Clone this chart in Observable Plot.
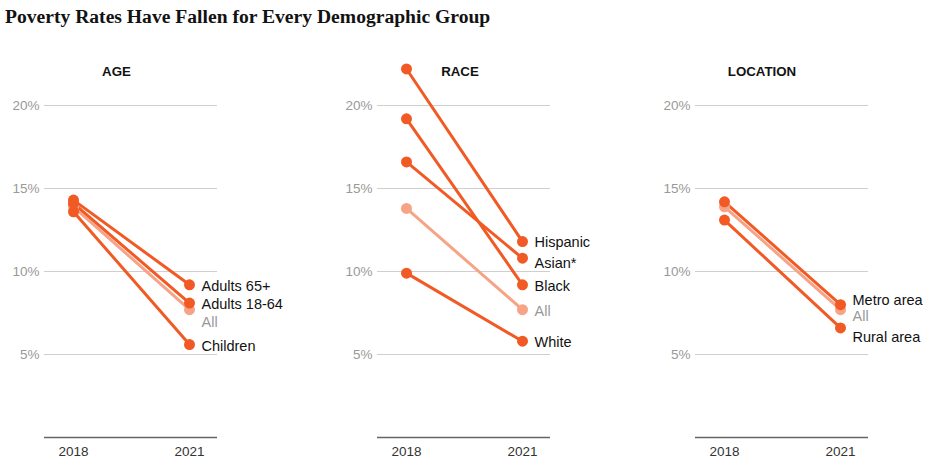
<!DOCTYPE html>
<html>
<head>
<meta charset="utf-8">
<script src="https://cdn.jsdelivr.net/npm/d3@7"></script>
<script src="https://cdn.jsdelivr.net/npm/@observablehq/plot@0.6"></script>
<style>
  html, body { margin: 0; padding: 0; background: #fff; }
  #wrap { width: 929px; height: 466px; position: relative; overflow: hidden; }
  #title { height: 40px; font-family: "Liberation Serif", "DejaVu Serif", serif; font-weight: bold;
           font-size: 19.6px; color: #121212; padding-left: 5px; line-height: 34px; white-space: nowrap; }
  #row { display: flex; }
  #row svg { display: block; }
</style>
</head>
<body>
<div id="wrap">
  <div id="title">Poverty Rates Have Fallen for Every Demographic Group</div>
  <div id="row"></div>
</div>
<script>
const years = ["2018", "2021"];
const yTicks = [5, 10, 15, 20];

const ageNames = ["All", "Adults 65+", "Adults 18-64", "Children"];
const age2018 = [13.9, 14.3, 14.1, 13.6];
const age2021 = [7.7, 9.2, 8.1, 5.6];

const raceNames = ["All", "Hispanic", "Asian*", "Black", "White"];
const race2018 = [13.8, 22.2, 16.6, 19.2, 9.9];
const race2021 = [7.7, 11.8, 10.8, 9.2, 5.8];

const locNames = ["All", "Metro area", "Rural area"];
const loc2018 = [13.9, 14.2, 13.1];
const loc2021 = [7.7, 8.0, 6.6];

// label nudges (px) to keep end labels from colliding
const nudge = {
  AGE: {"All": 13, "Adults 65+": 1.5, "Adults 18-64": 1, "Children": 1.5},
  RACE: {"All": 1.5, "Hispanic": 0.5, "Asian*": 5, "Black": 2, "White": 1},
  LOCATION: {"All": 7, "Metro area": -4, "Rural area": 9}
};

const orange = "#f15a24";
const light = "#f7a386";
const font = "'Liberation Sans', Arial, sans-serif";

function panel({title, names, v18, v21, width, marginLeft, marginRight, titleDx}) {
  const data = names.flatMap((n, i) => [
    {name: n, year: years[0], value: v18[i]},
    {name: n, year: years[1], value: v21[i]}
  ]);
  const ends = data.filter(d => d.year === years[1]);
  const col = d => d.name === "All" ? light : orange;
  const marks = [
    Plot.ruleY(yTicks, {stroke: "#cfcfcf", strokeWidth: 1}),
    Plot.ruleY([0], {stroke: "#666", strokeWidth: 1.5}),
    Plot.axisY(yTicks, {label: null, tickSize: 0, tickPadding: 5, tickFormat: d => d + "%", fill: "#999", fontSize: 13.5, fontFamily: font}),
    Plot.axisX(years, {label: null, tickSize: 0, tickPadding: 9, fill: "#333", fontSize: 13.5, fontFamily: font}),
    Plot.line(data, {x: "year", y: "value", z: "name", stroke: col, strokeWidth: 3}),
    Plot.dot(data, {x: "year", y: "value", r: 5.5, fill: col})
  ];
  for (const d of ends) {
    marks.push(Plot.text([d], {
      x: "year", y: "value", text: "name", textAnchor: "start", dx: 12, dy: nudge[title][d.name],
      fill: d.name === "All" ? "#999" : "#121212", fontSize: 14.5, fontFamily: font
    }));
  }
  marks.push(Plot.text([title], {frameAnchor: "top", lineAnchor: "middle", dy: -34, dx: titleDx, fontWeight: "bold", fontSize: 13.3, fill: "#121212", fontFamily: font}));
  return Plot.plot({
    width, height: 426,
    marginLeft, marginRight, marginTop: 65, marginBottom: 29,
    x: {type: "point", domain: years, padding: 0.245, axis: null},
    y: {domain: [0, 20], axis: null},
    style: {fontFamily: font, overflow: "visible"},
    marks
  });
}

const row = document.getElementById("row");
row.append(panel({title: "AGE", names: ageNames, v18: age2018, v21: age2021, width: 310, marginLeft: 44, marginRight: 93, titleDx: -14.5}));
row.append(panel({title: "RACE", names: raceNames, v18: race2018, v21: race2021, width: 310, marginLeft: 67, marginRight: 70, titleDx: -4}));
row.append(panel({title: "LOCATION", names: locNames, v18: loc2018, v21: loc2021, width: 309, marginLeft: 75, marginRight: 61, titleDx: -20}));
</script>
</body>
</html>
